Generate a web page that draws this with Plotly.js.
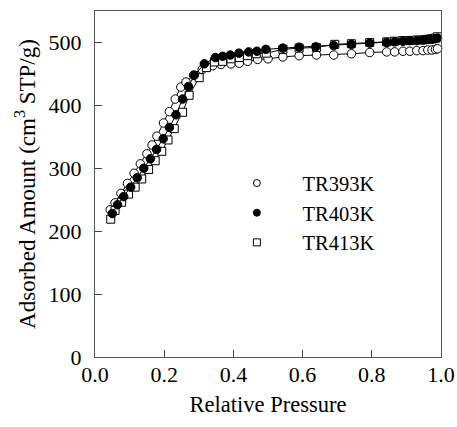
<!DOCTYPE html>
<html>
<head>
<meta charset="utf-8">
<script src="https://cdn.plot.ly/plotly-3.0.1.min.js"></script>
<style>html,body{margin:0;padding:0;background:#fff;}#chart{width:457px;height:427px;}</style>
</head>
<body>
<div id="chart"></div>
<script>
// TR393K (open circles)
const x393 = [0.044,0.058,0.075,0.094,0.113,0.131,0.150,0.165,0.179,0.198,0.215,0.232,0.248,0.263,0.285,0.31,0.34,0.364,0.393,0.417,0.441,0.47,0.5,0.543,0.59,0.64,0.69,0.741,0.794,0.843,0.866,0.89,0.91,0.93,0.948,0.962,0.974,0.984,0.99];
const y393 = [234,245,260,276,292,307,323,337,351,372,390,410,429,437,448,457,463,465,466,467,470,473,474,477,479,480,480,482,484,485,485,486,486,487,487,488,488,489,490];
// TR403K (filled circles)
const x403 = [0.05,0.065,0.083,0.103,0.122,0.141,0.16,0.178,0.197,0.215,0.234,0.253,0.27,0.287,0.316,0.348,0.369,0.391,0.416,0.444,0.468,0.494,0.543,0.59,0.638,0.69,0.741,0.794,0.843,0.866,0.89,0.91,0.93,0.948,0.962,0.974,0.984,0.99];
const y403 = [228,242,255,270,285,300,315,330,347,365,385,410,430,448,466,476,478,480,483,485,486,489,491,492.5,493,495,497,499,500,501,502,503,503,504,505,505,506,507];
// TR413K (open squares)
const x413 = [0.0455,0.058,0.077,0.097,0.116,0.135,0.155,0.174,0.193,0.211,0.229,0.253,0.272,0.301,0.322,0.345,0.369,0.393,0.417,0.441,0.466,0.495,0.543,0.59,0.64,0.693,0.741,0.794,0.843,0.866,0.89,0.91,0.93,0.948,0.962,0.974,0.984,0.99];
const y413 = [219,233,246,259,270,283,298,312,327,345,363,389,416,444,460,469,470,474,476,479,482,483,489,491,492,497,498,500,501,502,503,503,504,504,505,506,507,509];

const seriesNames = ['TR393K','TR403K','TR413K'];
const xTicks = [0,0.2,0.4,0.6,0.8,1.0];
const yTicks = [0,100,200,300,400,500];

const pad = '\u00a0\u00a0\u00a0\u00a0\u00a0';
const lineStyle = {color:'#000', width:1};
const sym = [
  {symbol:'circle', color:'#fff'},
  {symbol:'circle', color:'#000'},
  {symbol:'square', color:'#fff'}
];
const xs = [x393,x403,x413], ys = [y393,y403,y413];
const traces = [];
[0,2,1].forEach(i => {
  traces.push({x:xs[i], y:ys[i], mode:'lines+markers', showlegend:false,
    line:lineStyle, cliponaxis:false,
    marker:{symbol:sym[i].symbol, size:i===2?8:8.5, color:sym[i].color, line:{color:'#000', width:1}}});
});
[0,1,2].forEach(i => {
  traces.push({x:[null], y:[null], mode:'markers', name:pad+seriesNames[i], showlegend:true,
    marker:{symbol:sym[i].symbol, size:7, color:sym[i].color, line:{color:'#000', width:1}}});
});

const fam = 'Liberation Serif, serif';
const F = s => ({family:fam, size:s, color:'#000'});
const layout = {
  width:457, height:427,
  margin:{l:95, r:16, t:11, b:70},
  paper_bgcolor:'#fff', plot_bgcolor:'#fff',
  font:F(20),
  showlegend:true,
  legend:{x:0.41, y:0.56, xanchor:'left', yanchor:'top', bgcolor:'rgba(0,0,0,0)',
    font:F(20.5), tracegroupgap:0, itemsizing:'trace'},
  xaxis:{range:[0,1], tickvals:xTicks, ticktext:xTicks.map(v=>v.toFixed(1)),
    ticks:'inside', ticklen:7, tickcolor:'#444', showline:true, linecolor:'#555', linewidth:1.2,
    mirror:true, showgrid:false, zeroline:false, ticklabelstandoff:-3,
    tickfont:F(22),
    title:{text:'Relative Pressure', font:F(22.5), standoff:10}},
  yaxis:{range:[0,550], tickvals:yTicks, ticktext:yTicks.map(String),
    ticks:'inside', ticklen:7, tickcolor:'#444', showline:true, linecolor:'#555', linewidth:1.2,
    mirror:true, showgrid:false, zeroline:false, ticklabelstandoff:8,
    tickfont:F(22),
    title:{text:'Adsorbed Amount (cm<sup>3</sup> STP/g)', font:F(23), standoff:6}}
};
Plotly.newPlot('chart', traces, layout, {staticPlot:true, displayModeBar:false});
</script>
</body>
</html>
